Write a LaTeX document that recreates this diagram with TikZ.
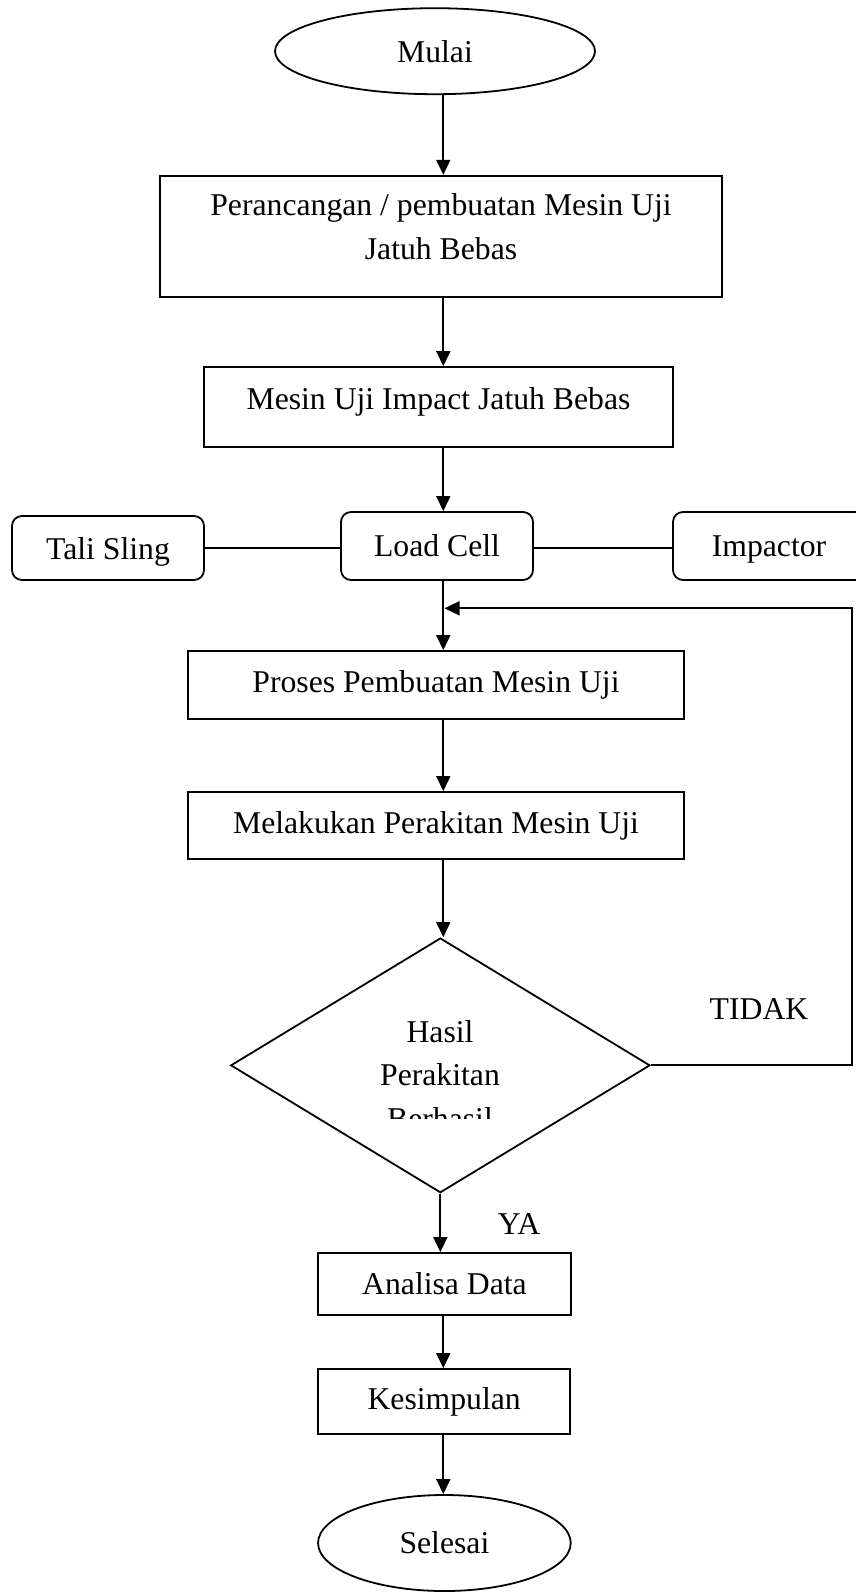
\documentclass[tikz,border=0pt]{standalone}
\usepackage{fontspec}
\setmainfont{Liberation Serif}
\usetikzlibrary{arrows.meta,shapes.geometric}
\begin{document}
\begin{tikzpicture}[x=0.5pt,y=-0.5pt,
  every node/.style={font=\fontsize{15.85pt}{21.65pt}\selectfont},
  ln/.style={line width=0.9pt,black},
  arr/.style={ln,-{Triangle[length=7.5pt,width=7pt]}},
  boxs/.style={draw,ln,rectangle,inner sep=0pt},
  rbox/.style={draw,ln,rectangle,rounded corners=5pt,inner sep=0pt,minimum width=96pt},
  term/.style={draw,ln,ellipse,inner sep=0pt},
  txt/.style={inner sep=0pt,align=center}]
\useasboundingbox (0,0) rectangle (856,1592);
\clip (0,0) rectangle (856,1592);
\coordinate (col) at (443.3,0);
% nodes
\node[term,minimum width=160pt,minimum height=43pt] (mulai) at (435,51.2) {Mulai};
\node[boxs,minimum width=280.85pt,minimum height=60.5pt] (box1) at (441,236.2) {};
\node[txt,anchor=north] (box1t) at (441,193.4) {Perancangan / pembuatan Mesin Uji\\Jatuh Bebas};
\node[boxs,minimum width=234.5pt,minimum height=40pt,text height=10.8pt,text depth=8.8pt] (box2) at (438.5,407) {Mesin Uji Impact Jatuh Bebas};
\node[rbox,minimum height=32pt,text depth=0pt] (tali) at (108,548) {Tali Sling};
\node[rbox,minimum height=34pt] (load) at (437,546) {Load Cell};
\node[rbox,minimum height=34pt,text depth=0pt] (imp) at (769,546) {Impactor};
\node[boxs,minimum width=248pt,minimum height=34pt] (proses) at (436,685) {Proses Pembuatan Mesin Uji};
\node[boxs,minimum width=248pt,minimum height=33.5pt] (rakit) at (436,825.5) {Melakukan Perakitan Mesin Uji};
\node[draw,ln,diamond,inner sep=0pt,minimum width=209.65pt,minimum height=127.35pt] (dia) at (440.35,1065.35) {};
\begin{scope}
\clip (330,1000) rectangle (550,1118.3);
\node[txt,anchor=north] (diat) at (440,1020.1) {Hasil\\Perakitan\\Berhasil};
\end{scope}
\node[anchor=base,inner sep=0pt] (tidak) at (759,1019) {TIDAK};
\node[anchor=base,inner sep=0pt] (ya) at (519,1234) {YA};
\node[boxs,minimum width=126.2pt,minimum height=31pt] (analisa) at (444.5,1284) {Analisa Data};
\node[boxs,minimum width=126pt,minimum height=32.5pt] (simpul) at (444.2,1401.5) {Kesimpulan};
\node[term,minimum width=126.35pt,minimum height=48pt] (selesai) at (444.4,1543) {Selesai};
% connectors
\draw[arr] (mulai.south -| col) -- (box1.north -| col);
\draw[arr] (box1.south -| col) -- (box2.north -| col);
\draw[arr] (box2.south -| col) -- (load.north -| col);
\draw[ln] (tali.east) -- (tali.east -| load.west);
\draw[ln] (load.east |- tali.east) -- (imp.west |- tali.east);
\draw[arr] (load.south -| col) -- (proses.north -| col);
\draw[arr] (proses.south -| col) -- (rakit.north -| col);
\draw[arr] (rakit.south -| col) -- (dia.north -| col);
\coordinate (fbx) at (851.7,608.3);
\coordinate (fb) at (444.5,608.3);
\draw[arr] (dia.east) -| (fbx) -- (fb);
\draw[arr] (dia.south) -- (dia.south |- analisa.north);
\draw[arr] (analisa.south -| col) -- (simpul.north -| col);
\draw[arr] (simpul.south -| col) -- (selesai.north -| col);
\end{tikzpicture}
\end{document}
